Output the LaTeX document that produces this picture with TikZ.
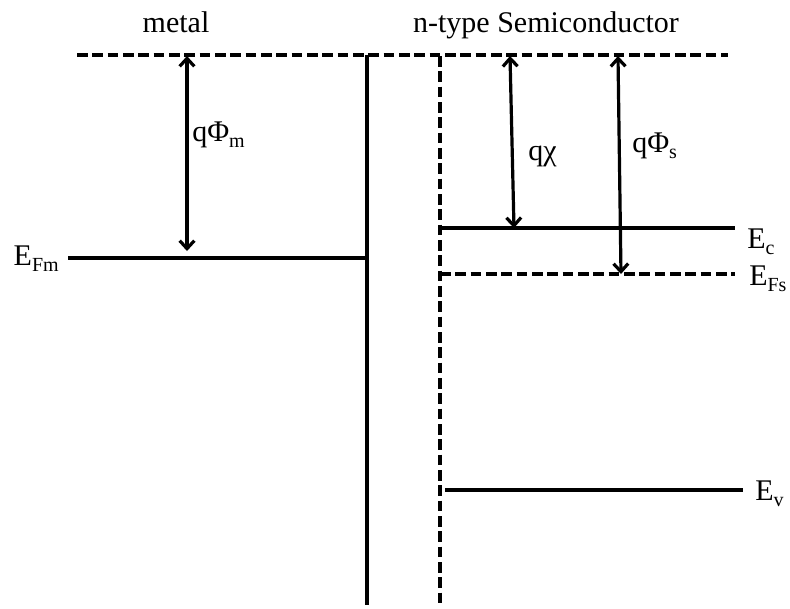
\documentclass[tikz,border=0pt]{standalone}
\usepackage{fontspec}
\setmainfont{Liberation Serif}
\usepackage{tikz}
\usetikzlibrary{arrows.meta,positioning}
\newcommand{\lowsub}[1]{\raisebox{-0.5ex}{\fontsize{15}{16}\selectfont #1}}
\tikzset{
  level/.style={line width=2.6pt},
  dlevel/.style={line width=2.6pt,dash pattern=on 8pt off 3.5pt},
  gap/.style={<->,line width=2.4pt},
  lbl/.style={font=\fontsize{22.5}{27}\selectfont,inner sep=0pt},
}

\begin{document}
\begin{tikzpicture}[x=0.75pt,y=-0.75pt,>={Straight Barb[length=6pt,width=11pt]}]
  \useasboundingbox (0,0) rectangle (790,608);
  % vacuum level and interface
  \coordinate (vacL) at (77,55);
  \coordinate (vacR) at (728,55);
  \coordinate (mTop) at (367,55);
  \coordinate (mBot) at (367,605);
  \coordinate (sTop) at (440,56);
  \coordinate (sBot) at (440,605);
  \draw[dlevel] (vacL) -- (vacR);
  \draw[level] (mTop) -- (mBot);
  \draw[dlevel] (sTop) -- (sBot);
  % levels
  \coordinate (EFmL) at (68,258);
  \coordinate (EFmR) at (367,258);
  \coordinate (EcL) at (440,228);
  \coordinate (EcR) at (735,228);
  \coordinate (EFsL) at (440,274);
  \coordinate (EFsR) at (735,274);
  \coordinate (EvL) at (445,490);
  \coordinate (EvR) at (743,490);
  \draw[level] (EFmL) -- (EFmR);
  \draw[level] (EcL) -- (EcR);
  \draw[dlevel] (EFsL) -- (EFsR);
  \draw[level] (EvL) -- (EvR);
  % energy gaps
  \coordinate (phimT) at (187,56);
  \coordinate (phimB) at (187,251);
  \coordinate (chiT) at (510,56);
  \coordinate (chiB) at (514,228);
  \coordinate (phisT) at (618,56);
  \coordinate (phisB) at (621,274);
  \draw[gap] (phimT) -- (phimB);
  \draw[gap] (chiT) -- (chiB);
  \draw[gap] (phisT) -- (phisB);
  % labels
  \node[lbl,anchor=base] (metal) at (176,32) {metal};
  \node[lbl,anchor=base] (semi) at (546,32) {n-type Semiconductor};
  \node[lbl,anchor=base east] (EFm) at (59,265) {E\lowsub{Fm}};
  \node[lbl,anchor=base west] (Ec) at (747,248) {E\lowsub{c}};
  \node[lbl,anchor=base west] (EFs) at (749,285) {E\lowsub{Fs}};
  \node[lbl,anchor=base west] (Ev) at (755,500) {E\lowsub{v}};
  \node[lbl,anchor=base west] (qphim) at (192,141) {qΦ\lowsub{m}};
  \node[lbl,anchor=base west] (qchi) at (528,160) {qχ};
  \node[lbl,anchor=base west] (qphis) at (632,152) {qΦ\lowsub{s}};
\end{tikzpicture}
\end{document}
